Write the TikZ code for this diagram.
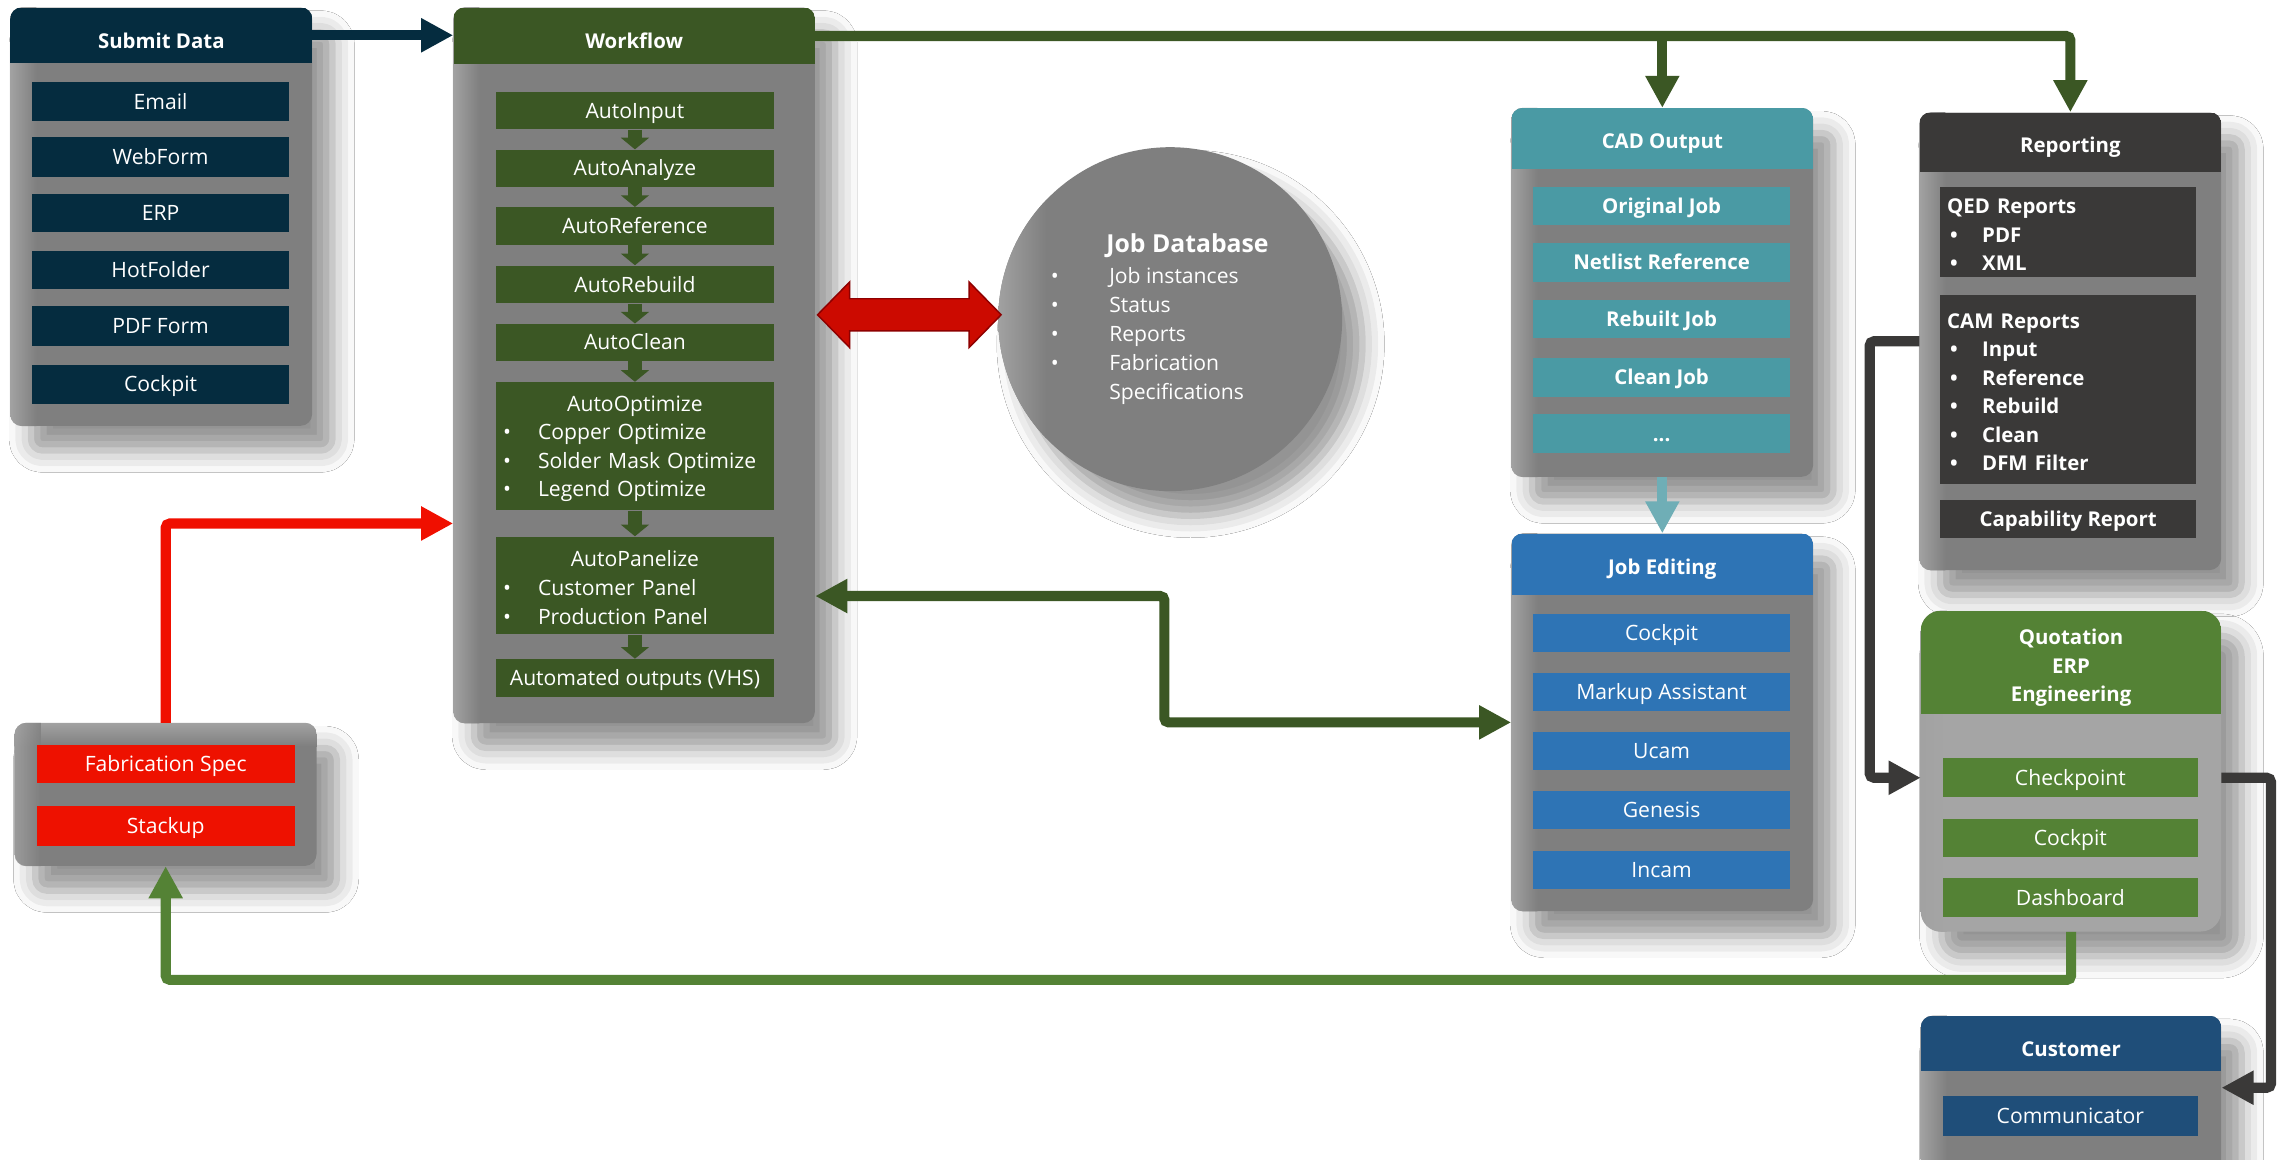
\documentclass[tikz,border=0pt]{standalone}
\usepackage{fontspec}
\setmainfont{Open Sans}
\usetikzlibrary{arrows.meta,shadows.blur,calc}
\definecolor{subnavy}{HTML}{052C3F}
\definecolor{wfgreen}{HTML}{3B5724}
\definecolor{cadteal}{HTML}{4A9AA4}
\definecolor{jeblue}{HTML}{2E74B5}
\definecolor{repdark}{HTML}{3A3938}
\definecolor{quogreen}{HTML}{548235}
\definecolor{custnavy}{HTML}{1F4E79}
\definecolor{fabred}{HTML}{EE1100}
\definecolor{bodygray}{HTML}{7F7F7F}
\definecolor{bodylight}{HTML}{A5A5A5}
\definecolor{edgegray}{HTML}{A2A2A2}
\definecolor{tealarrow}{HTML}{6FAEB6}
\definecolor{dbred}{HTML}{CC0A00}
\definecolor{dbredge}{HTML}{8E0000}
\definecolor{linered}{HTML}{F00F00}

\newcommand\pbody{bodygray}
\newcommand\itemfont{\fontsize{14.5}{19.6}\selectfont}
\newcommand\bfont{\fontsize{14}{19.5}\selectfont\bfseries}
\newcommand\hdrfont{\fontsize{14}{19.5}\selectfont\bfseries}
\newcommand\bul{\makebox[24pt][l]{\textbullet}}
\newcommand\rbul{\hspace*{2pt}\makebox[22pt][l]{\textbullet}}
\newcommand\toprule{\rule{0pt}{14pt}}

\tikzset{
  softshadow/.style={blur shadow={shadow xshift=14pt, shadow yshift=-17pt, shadow blur radius=15pt, shadow opacity=42}},
  panelbox/.style={draw=none, inner sep=0pt, softshadow},
  hdrbox/.style={inner sep=0pt, text=white, font=\hdrfont, align=center},
  itembox/.style={inner sep=0pt, inner xsep=5pt, text=white, font=\itemfont, align=center,
    text height=10.4pt, text depth=0pt},
  listbox/.style={inner sep=0pt, inner xsep=5pt, text=white, font=\itemfont, align=left},
  conn/.style={line width=7pt, rounded corners=3pt},
  endtri/.style={-{Triangle[length=22pt,width=22pt]}},
  bothtri/.style={{Triangle[length=22pt,width=22pt]}-{Triangle[length=22pt,width=22pt]}},
  smallarr/.style={line width=9.6pt, wfgreen, -{Triangle[length=8pt,width=19pt]}},
}

% #1 name, #2 x0, #3 y0, #4 x1, #5 y1, #6 header height, #7 colour, #8 header text, #9 radius
\newcommand\panel[9]{%
  \node[panelbox, fill=\pbody, rounded corners=#9, minimum width={#4-#2}, minimum height={#5-#3}, anchor=north west] (#1) at (#2,#3) {};
  \begin{scope}
    \clip[rounded corners=#9] (#1.north west) rectangle (#1.south east);
    \shade[left color=edgegray, right color=\pbody] (#1.north west) rectangle ([xshift=18pt]#1.south west);
    \node[inner sep=0pt, fill=#7, minimum width={#4-#2}, minimum height={#6}, anchor=north west] (#1h) at (#1.north west) {};
  \end{scope}
  \node[hdrbox] (#1t) at ([yshift=-3.5pt]#1h.center) {#8};}

% #1 name, #2 colour, #3 x0, #4 y0, #5 x1, #6 y1, #7 text
\newcommand\ibox[7]{\node[itembox, fill=#2, minimum width={#5-#3}, minimum height={#6-#4}, anchor=north west] (#1) at (#3,#4) {#7};}

\begin{document}
\begin{tikzpicture}[x=1pt,y=-1pt]
\useasboundingbox (0,0) rectangle (1568,796);
\fill[white] (0,0) rectangle (1568,796);

% ---------------- panels
\panel{sub}{7}{5}{214}{292}{38}{subnavy}{Submit Data}{8pt}
\panel{wf}{311}{5}{559}{496}{39}{wfgreen}{Workflow}{8pt}
\panel{cad}{1037}{74}{1244}{327}{42}{cadteal}{CAD Output}{8pt}
\panel{je}{1037}{366}{1244}{625}{42}{jeblue}{Job Editing}{8pt}
\panel{rep}{1317}{77}{1524}{391}{41}{repdark}{Reporting}{8pt}
\renewcommand\pbody{bodylight}
\panel{quo}{1318}{419}{1524}{639}{71}{quogreen}{Quotation\\ERP\\Engineering}{14pt}
\renewcommand\pbody{bodygray}
\panel{cust}{1318}{697}{1524}{850}{38}{custnavy}{Customer}{8pt}

% fabrication panel (no header)
\node[panelbox, fill=bodygray, rounded corners=8pt, minimum width=207pt, minimum height=98pt, anchor=north west] (fab) at (10,496) {};
\begin{scope}
  \clip[rounded corners=8pt] (fab.north west) rectangle (fab.south east);
  \shade[top color=edgegray, bottom color=bodygray] (fab.north west) rectangle ([yshift=-16pt]fab.north east);
  \shade[left color=edgegray, right color=bodygray, opacity=0.8] (fab.north west) rectangle ([xshift=18pt]fab.south west);
\end{scope}

% job database
\node[circle, fill=bodygray, minimum size=236pt, inner sep=0pt, softshadow] (db) at (803,219) {};
\begin{scope}
  \clip (db.center) circle[radius=118pt];
  \shade[left color=edgegray, right color=bodygray] (684,95) rectangle (718,345);
\end{scope}
\node[anchor=west, align=left, text=white, font=\fontsize{14.5}{19.8}\selectfont, inner sep=0pt] (dbt) at (721,219)
  {\hspace*{38pt}{\fontsize{17}{22}\selectfont\bfseries Job Database}\\[1.5pt]
   \makebox[40pt][l]{\textbullet}Job instances\\
   \makebox[40pt][l]{\textbullet}Status\\
   \makebox[40pt][l]{\textbullet}Reports\\
   \makebox[40pt][l]{\textbullet}Fabrication\\
   \hspace*{40pt}Specifications};

% ---------------- items
\ibox{email}{subnavy}{22}{56}{198}{83}{Email}
\ibox{webf}{subnavy}{22}{94}{198}{121}{WebForm}
\ibox{erp}{subnavy}{22}{133}{198}{159}{ERP}
\ibox{hotf}{subnavy}{22}{172}{198}{198}{HotFolder}
\ibox{pdff}{subnavy}{22}{210}{198}{237}{PDF Form}
\ibox{scock}{subnavy}{22}{250}{198}{277}{Cockpit}

\ibox{ain}{wfgreen}{340}{63}{531}{88.5}{AutoInput}
\ibox{aana}{wfgreen}{340}{102.5}{531}{128}{AutoAnalyze}
\ibox{aref}{wfgreen}{340}{142}{531}{168}{AutoReference}
\ibox{areb}{wfgreen}{340}{182}{531}{208}{AutoRebuild}
\ibox{acln}{wfgreen}{340}{222}{531}{247.5}{AutoClean}
\node[listbox, fill=wfgreen, text width=181pt, minimum width=191pt, minimum height=88pt, anchor=north west] (aopt) at (340,262)
  {\toprule\makebox[181pt]{AutoOptimize}\\ \bul Copper Optimize\\ \bul Solder Mask Optimize\\ \bul Legend Optimize};
\node[listbox, fill=wfgreen, text width=181pt, minimum width=191pt, minimum height=67pt, anchor=north west] (apan) at (340,368)
  {\toprule\makebox[181pt]{AutoPanelize}\\ \bul Customer Panel\\ \bul Production Panel};
\ibox{vhs}{wfgreen}{340}{452}{531}{478}{Automated outputs (VHS)}

\ibox{oj}{cadteal}{1052}{128}{1228}{154}{\bfont Original Job}
\ibox{nr}{cadteal}{1052}{166.5}{1228}{193}{\bfont Netlist Reference}
\ibox{rj}{cadteal}{1052}{205.5}{1228}{232}{\bfont Rebuilt Job}
\ibox{cj}{cadteal}{1052}{245.5}{1228}{272}{\bfont Clean Job}
\ibox{dots}{cadteal}{1052}{284}{1228}{310.5}{\bfont ...}

\ibox{jc}{jeblue}{1052}{421}{1228}{447}{Cockpit}
\ibox{ma}{jeblue}{1052}{461.5}{1228}{488}{Markup Assistant}
\ibox{uc}{jeblue}{1052}{502}{1228}{528}{Ucam}
\ibox{ge}{jeblue}{1052}{542.5}{1228}{569}{Genesis}
\ibox{inc}{jeblue}{1052}{583.5}{1228}{610}{Incam}

\node[listbox, fill=repdark, text width=166pt, minimum width=176pt, minimum height=62pt, anchor=north west] (qed) at (1331,128)
  {\bfont\toprule QED Reports\\ \rbul PDF\\ \rbul XML};
\node[listbox, fill=repdark, text width=166pt, minimum width=176pt, minimum height=130pt, anchor=north west] (cam) at (1331,202)
  {\bfont\toprule CAM Reports\\ \rbul Input\\ \rbul Reference\\ \rbul Rebuild\\ \rbul Clean\\ \rbul DFM Filter};
\ibox{capr}{repdark}{1331}{343}{1507}{369}{\bfont Capability Report}

\ibox{chk}{quogreen}{1333}{520}{1508}{547}{Checkpoint}
\ibox{qcock}{quogreen}{1333}{562}{1508}{588}{Cockpit}
\ibox{dash}{quogreen}{1333}{602.5}{1508}{629}{Dashboard}

\ibox{comm}{custnavy}{1333}{752}{1508}{779}{Communicator}

\ibox{fspec}{fabred}{25}{511}{202}{537}{Fabrication Spec}
\ibox{stk}{fabred}{25}{553}{202}{580}{Stackup}

% ---------------- connectors
\foreach \a/\b in {ain/aana, aana/aref, aref/areb, areb/acln, acln/aopt, aopt/apan, apan/vhs}
  \draw[smallarr] (\a.south) -- (\b.north);

\draw[conn, subnavy, endtri] (subh.east) -- (subh.east -| wf.west);
\draw[conn, wfgreen, endtri] (wfh.east) -| (rep.north);
\draw[conn, wfgreen, endtri] (wfh.east -| cad.north) -- (cad.north);
\draw[conn, tealarrow, endtri] (cad.south) -- (je.north);

\draw[conn, repdark, endtri] (rep.west) -- ++(-34,0) |- (quo.west |- chk.center);
\coordinate (custin) at ($(custh.south east)+(0,11)$);
\draw[conn, repdark, endtri] (quo.east |- chk.center) -- ++(34,0) |- (custin);

\draw[conn, quogreen, endtri] (quo.south) -- ++(0,33) -| (fab.south);
\coordinate (redy) at ($(aopt.south)!0.5!(apan.north)$);
\draw[conn, linered, endtri] (fab.north) |- (wf.west |- redy);

\coordinate (wfy) at (0,409);
\coordinate (jmid) at (799,453);
\draw[conn, wfgreen, bothtri] (wf.east |- wfy) -| (jmid) |- (je.west);

% red double arrow between workflow and job database
\filldraw[fill=dbred, draw=dbredge, line width=1pt]
  (561,216) -- (583,193.5) -- (583,205) -- (665,205) -- (665,193.5) -- (687,216)
  -- (665,238.5) -- (665,227) -- (583,227) -- (583,238.5) -- cycle;
\end{tikzpicture}
\end{document}
